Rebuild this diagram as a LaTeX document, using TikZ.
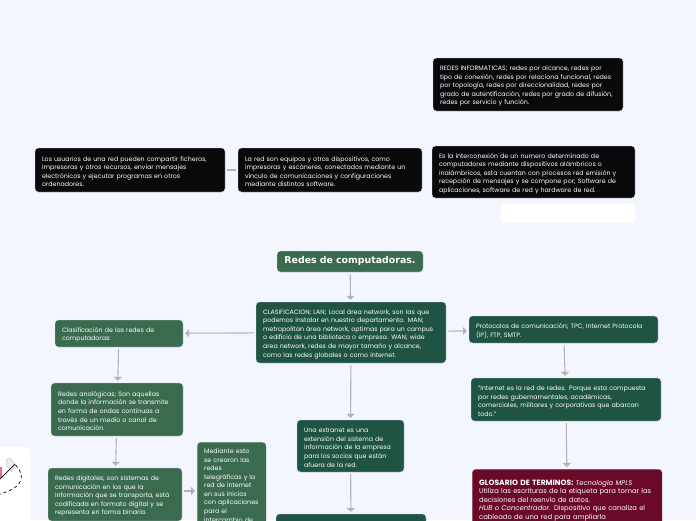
\documentclass[tikz,border=0pt]{standalone}
\usepackage{fontspec}
\setmainfont{Poppins}
\newfontfamily\titlefont{DejaVu Sans}
\definecolor{pagebg}{HTML}{F3F6FF}
\definecolor{blackbox}{HTML}{09090C}
\definecolor{greenbox}{HTML}{3A6B4E}
\definecolor{tealbox}{HTML}{1F5344}
\definecolor{winebox}{HTML}{6A0A28}
\definecolor{linkgray}{HTML}{B4B4B8}
\tikzset{
  mapbox/.style={rounded corners=3.5pt,inner xsep=7pt,inner ysep=0pt,align=left,text=white,text height=8pt,
    font=\fontsize{6.3}{8.55}\selectfont,draw=white!70!gray,line width=0.3pt},
  blacknote/.style={mapbox,fill=blackbox},
  greennote/.style={mapbox,fill=greenbox},
  tealnote/.style={mapbox,fill=tealbox},
  winenote/.style={mapbox,fill=winebox},
  link/.style={draw=linkgray,line width=1.1pt,shorten <=2pt,shorten >=2pt},
  arrowlink/.style={link,-{Triangle[length=4pt,width=8pt]}}
}
\usetikzlibrary{arrows.meta}
\begin{document}
\begin{tikzpicture}[x=1pt,y=-1pt]
\useasboundingbox (0,0) rectangle (696,520);
\clip (0,0) rectangle (696,520);
\fill[pagebg] (0,0) rectangle (696,520);

\node[blacknote,text width=176pt,minimum height=53pt] (tipos) at (528,84.5) {REDES INFORMATICAS; redes por alcance, redes por\\tipo de conexión, redes por relaciona funcional, redes\\por topología, redes por direccionalidad, redes por\\grado de autentificación, redes por grado de difusión,\\redes por servicio y función.};
\node[blacknote,text width=189pt,minimum height=52pt] (interconexion) at (533.5,172) {Es la interconexión de un numero determinado de\\computadores mediante dispositivos alámbricos o\\inalámbricos, esta cuentan con procesos red emisión y\\recepción de mensajes y se compone por; Software de\\aplicaciones, software de red y hardware de red.};
\node[fill=white,rounded corners=3.5pt,minimum width=134pt,minimum height=19pt,inner sep=0pt] (blanco) at (568,213.5) {};
\node[blacknote,text width=176pt,minimum height=44pt] (usuarios) at (130,170) {Los usuarios de una red pueden compartir ficheros,\\impresoras y otros recursos, enviar mensajes\\electrónicos y ejecutar programas en otros\\ordenadores.};
\node[blacknote,text width=170pt,minimum height=44pt] (equipos) at (330,170) {La red son equipos y otros dispositivos, como\\impresoras y escáneres, conectados mediante un\\vínculo de comunicaciones y configuraciones\\mediante distintos software.};

\node[greennote,align=center,text width=132pt,minimum height=21pt,text height=6.5pt,font=\fontsize{9.4}{11}\titlefont\bfseries] (titulo) at (350,261.5) {Redes de computadoras.};
\node[tealnote,text width=176pt,minimum height=61pt] (clasificacion) at (351,332.5) {CLASIFICACION; LAN; Local área network, son las que\\podemos instalar en nuestro departamento. MAN;\\metropolitan área network, optimas para un campus\\o edificio de una biblioteca o empresa. WAN; wide\\area network, redes de mayor tamaño y alcance,\\como las redes globales o como internet.};

\node[greennote,text width=114pt,minimum height=27pt] (tiposred) at (119,333.5) {Clasificación de las redes de\\computadoras:};
\node[greennote,text width=118pt,minimum height=53pt] (analogicas) at (117,409.5) {Redes analógicas; Son aquellas\\donde la información se transmite\\en forma de ondas continuas a\\través de un medio o canal de\\comunicación.};
\node[greennote,text width=120pt,minimum height=53pt] (digitales) at (115,494.5) {Redes digitales; son sistemas de\\comunicación en los que la\\información que se transporta, está\\codificada en formato digital y se\\representa en forma binaria.};
\node[greennote,text width=55pt,anchor=north west,inner ysep=3.5pt] (mediante) at (197,442) {Mediante esto\\se crearon las\\redes\\telegráficas y la\\red de internet\\en sus inicios\\con aplicaciones\\para el\\intercambio de};
\coordinate (medianteentrada) at (197,491);

\node[tealnote,text width=93pt,minimum height=52pt] (extranet) at (350.5,446) {Una extranet es una\\extensión del sistema de\\información de la empresa\\para los socios que están\\afuera de la red.};
\node[tealnote,text width=136pt,minimum height=40pt] (inferior) at (351,534) {};

\node[tealnote,text width=175pt,minimum height=27pt] (protocolos) at (563.5,329.5) {Protocolos de comunicación; TPC, Internet Protocola\\(IP), FTP, SMTP.};
\node[tealnote,text width=176pt,minimum height=43pt] (internet) at (566,399.5) {"Internet es la red de redes. Porque esta compuesta\\por redes gubernamentales, académicas,\\comerciales, militares y corporativas que abarcan\\todo."};
\node[winenote,text width=176pt,minimum height=60pt,anchor=north west,inner ysep=1.5pt,font=\fontsize{6.8}{8.55}\selectfont] (glosario) at (472,469) {{\fontsize{7.6}{8.55}\selectfont\textbf{GLOSARIO DE TERMINOS:}} \textit{Tecnología MPLS}\\Utiliza las escrituras de la etiqueta para tomar las\\decisiones del reenvío de datos.\\\textit{HUB o Concentrador.} Dispositivo que canaliza el\\cableado de una red para ampliarla};

\draw[link] (usuarios) -- (equipos);
\draw[arrowlink] (titulo) -- (clasificacion);
\draw[arrowlink] (clasificacion) -- (tiposred);
\draw[arrowlink] (clasificacion) -- (protocolos);
\draw[arrowlink] (clasificacion) -- (extranet);
\draw[arrowlink] (extranet) -- (inferior);
\draw[arrowlink] (tiposred) -- (analogicas);
\draw[arrowlink] (analogicas) -- (digitales);
\draw[arrowlink] (digitales.east |- medianteentrada) -- (medianteentrada);
\draw[arrowlink] (protocolos) -- (internet);
\draw[arrowlink] (internet) -- (glosario);

\fill[white,rounded corners=5pt] (-8,447) rectangle (30.5,530);
\fill[pink!60!purple] (0,467) rectangle (2,478);
\draw[fill=white!85!gray,draw=gray!50,line width=0.4pt] (6,460) -- (10,458) -- (15.7,465) -- (11.7,472) -- (7,466) -- cycle;
\draw[black,line width=0.7pt] (0,479) -- (15,464);
\draw[black,line width=0.7pt,dashed] (15.7,465) .. controls (25,475) and (25,487) .. (0,494);
\end{tikzpicture}
\end{document}
